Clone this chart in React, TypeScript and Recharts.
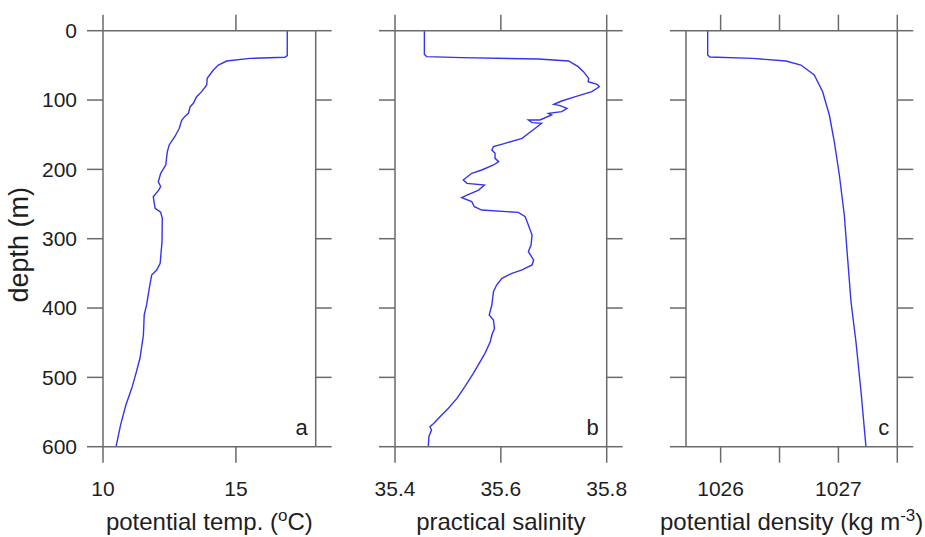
import React from 'react';
import { LineChart, Line, XAxis, YAxis } from 'recharts';

// ---- data ----
const depthTicks = [0, 100, 200, 300, 400, 500, 600];

const tempTicks = [10, 15];
const tempDepth = [0, 36, 38.4, 39.9, 43.7, 49.5, 56.7, 68.7, 78.3, 87.9, 95.2, 104.7, 109.6, 119.2, 124, 129.2, 140.8, 152.9, 164.8, 174.5, 193.7, 205.7, 217.8, 225, 230.7, 239.4, 248.9, 256.2, 261.9, 270.6, 304.3, 335.5, 345.2, 352.4, 371.6, 395.6, 410, 438.9, 472.5, 494.2, 515.8, 539.9, 568.8, 600];
const tempVals = [16.93, 16.93, 16.84, 15.53, 14.65, 14.34, 14.15, 13.92, 13.9, 13.71, 13.52, 13.4, 13.28, 13.21, 13.07, 12.96, 12.87, 12.7, 12.49, 12.42, 12.36, 12.17, 12.08, 12.17, 12.08, 11.89, 11.93, 11.96, 12.17, 12.23, 12.22, 12.15, 12.02, 11.83, 11.74, 11.64, 11.55, 11.52, 11.39, 11.24, 11.08, 10.86, 10.66, 10.49];

const salTicks = [35.4, 35.6, 35.8];
const salDepth = [0, 34.1, 37.4, 38.9, 40.8, 43.7, 51.9, 59.1, 68.7, 73.5, 77.3, 80.8, 87.9, 95.2, 101.4, 106.2, 108.1, 111.9, 116.8, 119.2, 121.6, 128.8, 128.8, 132.6, 133.6, 140.8, 155.2, 162.4, 167.3, 172.1, 176.9, 184.1, 188.9, 193.7, 200.9, 205.7, 215.4, 220.2, 222.6, 229.8, 237.0, 240.9, 246.6, 253.9, 258.7, 262.1, 268.3, 280.3, 294.7, 309.1, 318.7, 330.8, 337.9, 345.1, 350.0, 357.2, 366.8, 376.4, 395.7, 410, 417.3, 429.3, 438.9, 448.6, 465.3, 477.4, 494.2, 513.5, 530.3, 544.6, 556.8, 566.4, 571.2, 576.0, 585.1, 599.5];
const salVals = [35.4555, 35.4555, 35.46, 35.526, 35.671, 35.728, 35.746, 35.756, 35.766, 35.765, 35.782, 35.786, 35.772, 35.741, 35.715, 35.7, 35.712, 35.725, 35.715, 35.69, 35.696, 35.674, 35.652, 35.659, 35.677, 35.665, 35.64, 35.608, 35.586, 35.583, 35.589, 35.589, 35.596, 35.586, 35.564, 35.545, 35.529, 35.536, 35.569, 35.558, 35.536, 35.526, 35.545, 35.55, 35.564, 35.633, 35.646, 35.652, 35.659, 35.657, 35.652, 35.662, 35.659, 35.64, 35.621, 35.602, 35.592, 35.586, 35.583, 35.578, 35.586, 35.588, 35.583, 35.58, 35.57, 35.561, 35.548, 35.532, 35.517, 35.501, 35.485, 35.473, 35.466, 35.469, 35.464, 35.463];

const densTicks = [1026, 1026.5, 1027, 1027.5];
const densLabeled = [1026, 1027];
const densDepth = [0, 35, 38, 39.9, 43.7, 49.5, 63.9, 88, 121.6, 160.1, 208.1, 265.8, 328.3, 390.9, 448.6, 520.7, 600];
const densVals = [1025.89, 1025.89, 1025.909, 1026.272, 1026.555, 1026.682, 1026.795, 1026.866, 1026.923, 1026.965, 1027.008, 1027.05, 1027.078, 1027.107, 1027.149, 1027.192, 1027.234];

const tempData = tempDepth.map((d, i) => ({ d, v: tempVals[i] }));
const salData = salDepth.map((d, i) => ({ d, v: salVals[i] }));
const densData = densDepth.map((d, i) => ({ d, v: densVals[i] }));

// ---- styles ----
const AXIS = '#6a6a6a';
const LINE = '#3434ee';
const TEXT = '#1e1e1e';
const FONT = '"Liberation Sans", Arial, sans-serif';
const blank = () => '';

const makeTitle = (main: string, sup: string, tail: string) => (props: any) => {
  const vb = props.viewBox || { x: 0, y: 0, width: 0 };
  const cx = vb.x + vb.width / 2;
  return (
    <text x={cx} y={vb.y + 83} textAnchor="middle" fontSize={24} fill={TEXT} fontFamily={FONT}>
      {main}
      {sup ? (
        <tspan dy={-9} fontSize={17}>{sup}</tspan>
      ) : null}
      {tail ? <tspan dy={sup ? 9 : 0}>{tail}</tspan> : null}
    </text>
  );
};

const makeLetter = (letter: string) => (props: any) => {
  const vb = props.viewBox || { x: 0, y: 0, height: 0 };
  return (
    <text x={vb.x - 8} y={vb.y + vb.height - 12} textAnchor="end" fontSize={22} fill={TEXT} fontFamily={FONT}>
      {letter}
    </text>
  );
};

const depthLabel = (props: any) => {
  const vb = props.viewBox || { x: 0, y: 0, height: 0 };
  const x = vb.x - 15;
  const y = vb.y + vb.height / 2 + 6;
  return (
    <text x={x} y={y} transform={`rotate(-90 ${x} ${y})`} textAnchor="middle" fontSize={27} fill={TEXT} fontFamily={FONT}>
      depth (m)
    </text>
  );
};

type PanelProps = {
  left: number;
  width: number;
  margin: { top: number; bottom: number; left: number; right: number };
  data: { d: number; v: number }[];
  domain: [number, number];
  ticks: number[];
  fmt?: (v: number) => string;
  leftWidth: number;
  yLabels: boolean;
  title: (p: any) => any;
  letter: string;
};

function Panel(p: PanelProps) {
  return (
    <div style={{ position: 'absolute', left: p.left, top: 0 }}>
      <LineChart
        layout="vertical"
        width={p.width}
        height={537}
        data={p.data}
        margin={p.margin}
        style={{ fontFamily: FONT }}
      >
        <XAxis
          xAxisId="t"
          orientation="top"
          type="number"
          domain={p.domain}
          ticks={p.ticks}
          allowDataOverflow
          interval={0}
          tickFormatter={blank}
          tick={{ fontSize: 10 }}
          tickSize={16}
          height={20}
          stroke={AXIS}
          strokeWidth={1.5}
        />
        <XAxis
          xAxisId="b"
          orientation="bottom"
          type="number"
          domain={p.domain}
          ticks={p.ticks}
          allowDataOverflow
          interval={0}
          tickFormatter={p.fmt}
          tick={{ fontSize: 21, fill: TEXT }}
          tickSize={16}
          tickMargin={18}
          height={40}
          stroke={AXIS}
          strokeWidth={1.5}
          label={{ content: p.title }}
        />
        <YAxis
          yAxisId="l"
          orientation="left"
          type="number"
          dataKey="d"
          domain={[0, 600]}
          ticks={depthTicks}
          allowDataOverflow
          interval={0}
          tickFormatter={p.yLabels ? undefined : blank}
          tick={{ fontSize: 21, fill: TEXT }}
          tickSize={16}
          tickMargin={10}
          width={p.leftWidth}
          stroke={AXIS}
          strokeWidth={1.5}
          label={p.yLabels ? { content: depthLabel } : undefined}
        />
        <YAxis
          yAxisId="r"
          orientation="right"
          type="number"
          dataKey="d"
          domain={[0, 600]}
          ticks={depthTicks}
          allowDataOverflow
          interval={0}
          tickFormatter={blank}
          tick={{ fontSize: 10 }}
          tickSize={16}
          width={20}
          stroke={AXIS}
          strokeWidth={1.5}
          label={{ content: makeLetter(p.letter) }}
        />
        <Line
          xAxisId="b"
          yAxisId="l"
          dataKey="v"
          type="linear"
          dot={false}
          activeDot={false}
          stroke={LINE}
          strokeWidth={1.4}
          isAnimationActive={false}
        />
      </LineChart>
    </div>
  );
}

export default function App() {
  return (
    <div style={{ position: 'absolute', left: 0, top: 0, width: 925, height: 537, background: '#fff', overflow: 'hidden' }}>
      <Panel
        left={0}
        width={340}
        margin={{ top: 10.7, bottom: 50.3, left: 43, right: 4.3 }}
        data={tempData}
        domain={[10, 18]}
        ticks={tempTicks}
        leftWidth={60}
        yLabels={true}
        title={makeTitle('potential temp. (', 'o', 'C)')}
        letter="a"
      />
      <Panel
        left={340}
        width={290}
        margin={{ top: 10.7, bottom: 50.3, left: 35, right: 3.3 }}
        data={salData}
        domain={[35.4, 35.8]}
        ticks={salTicks}
        fmt={(v: number) => v.toFixed(1)}
        leftWidth={20}
        yLabels={false}
        title={makeTitle('practical salinity', '', '')}
        letter="b"
      />
      <Panel
        left={630}
        width={295}
        margin={{ top: 10.7, bottom: 50.3, left: 36, right: 7.7 }}
        data={densData}
        domain={[1025.706, 1027.5]}
        ticks={densTicks}
        fmt={(v: number) => (densLabeled.includes(v) ? String(v) : '')}
        leftWidth={20}
        yLabels={false}
        title={makeTitle('potential density (kg m', '-3', ')')}
        letter="c"
      />
    </div>
  );
}
